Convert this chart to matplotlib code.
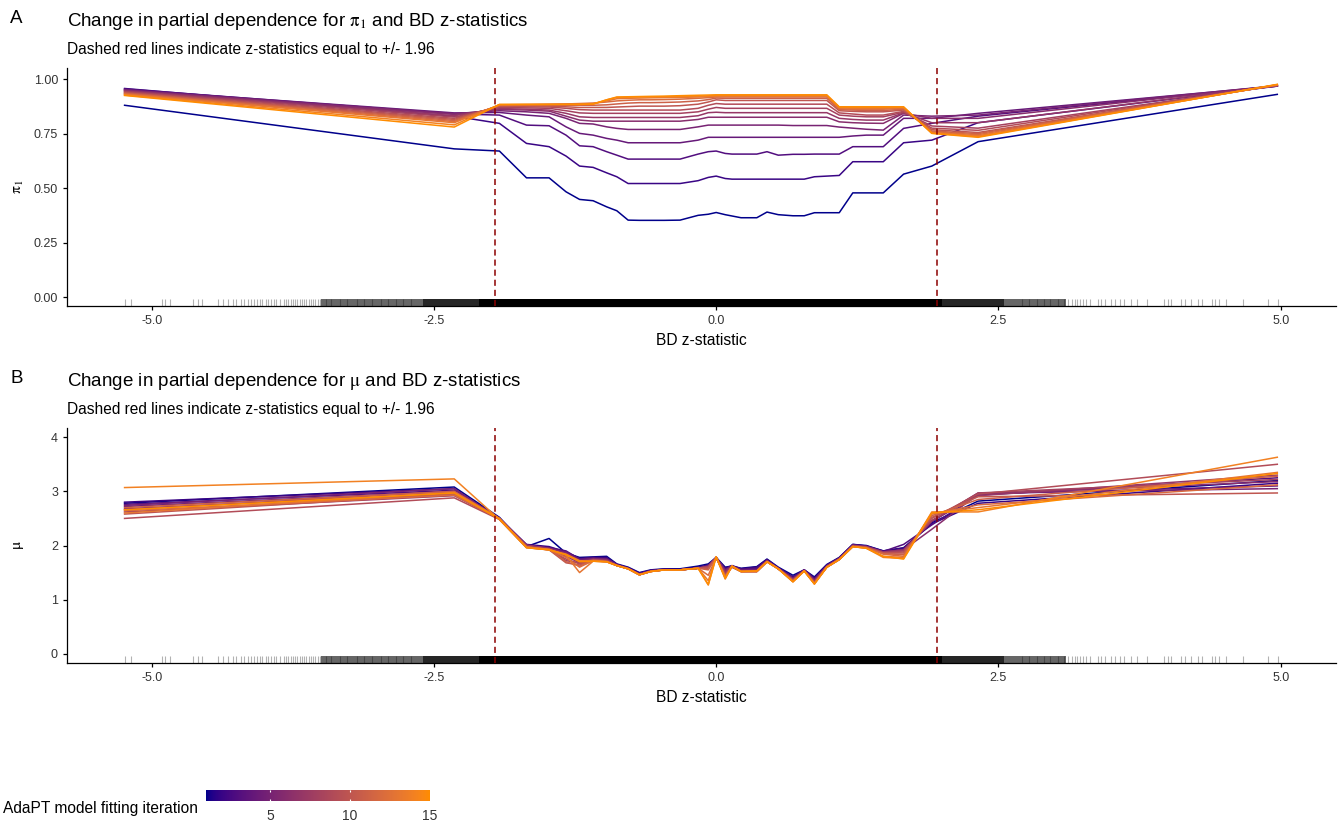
import numpy as np
import matplotlib
matplotlib.use("Agg")
import matplotlib.pyplot as plt

plt.rcParams['font.family'] = ['Liberation Sans', 'DejaVu Sans']
plt.rcParams['mathtext.fontset'] = 'stix'
plt.rcParams['axes.unicode_minus'] = False

# grid of BD z-statistics used for the partial dependence
z_grid = [-5.24, -2.32, -1.92, -1.68, -1.48, -1.33, -1.21, -1.09, -0.97, -0.88,
          -0.78, -0.68, -0.58, -0.46, -0.32, -0.16, -0.07, 0.00, 0.08, 0.14,
          0.22, 0.36, 0.45, 0.55, 0.68, 0.78, 0.87, 0.98, 1.09, 1.21,
          1.33, 1.48, 1.66, 1.91, 2.32, 4.97]

# partial dependence of pi_1, one list per AdaPT iteration
pi1_it01 = [0.880, 0.680, 0.670, 0.547, 0.547, 0.483, 0.448, 0.442, 0.414, 0.396, 0.353, 0.352, 0.352, 0.352, 0.353, 0.375, 0.380, 0.388, 0.378, 0.372, 0.364, 0.364, 0.390, 0.378, 0.373, 0.373, 0.387, 0.387, 0.387, 0.478, 0.478, 0.478, 0.564, 0.601, 0.713, 0.930]
pi1_it02 = [0.957, 0.830, 0.797, 0.705, 0.690, 0.647, 0.601, 0.595, 0.570, 0.552, 0.521, 0.521, 0.521, 0.521, 0.521, 0.534, 0.549, 0.555, 0.544, 0.541, 0.541, 0.541, 0.541, 0.541, 0.541, 0.541, 0.552, 0.555, 0.558, 0.621, 0.621, 0.621, 0.708, 0.720, 0.800, 0.968]
pi1_it03 = [0.955, 0.840, 0.835, 0.789, 0.786, 0.743, 0.694, 0.690, 0.667, 0.651, 0.633, 0.633, 0.633, 0.633, 0.633, 0.656, 0.667, 0.670, 0.659, 0.656, 0.656, 0.656, 0.667, 0.651, 0.655, 0.655, 0.656, 0.656, 0.656, 0.690, 0.690, 0.690, 0.774, 0.797, 0.830, 0.968]
pi1_it04 = [0.952, 0.845, 0.847, 0.835, 0.827, 0.781, 0.751, 0.743, 0.728, 0.720, 0.708, 0.708, 0.708, 0.708, 0.708, 0.720, 0.733, 0.733, 0.733, 0.733, 0.733, 0.733, 0.733, 0.733, 0.733, 0.733, 0.733, 0.733, 0.733, 0.739, 0.743, 0.743, 0.820, 0.820, 0.843, 0.968]
pi1_it05 = [0.950, 0.842, 0.855, 0.850, 0.843, 0.820, 0.797, 0.794, 0.781, 0.774, 0.769, 0.769, 0.769, 0.769, 0.769, 0.781, 0.789, 0.789, 0.789, 0.789, 0.789, 0.789, 0.789, 0.789, 0.787, 0.787, 0.787, 0.787, 0.780, 0.775, 0.770, 0.766, 0.835, 0.830, 0.835, 0.970]
pi1_it06 = [0.948, 0.838, 0.861, 0.858, 0.853, 0.830, 0.812, 0.807, 0.807, 0.807, 0.807, 0.807, 0.807, 0.807, 0.807, 0.815, 0.825, 0.825, 0.825, 0.825, 0.825, 0.825, 0.825, 0.825, 0.825, 0.825, 0.825, 0.825, 0.804, 0.800, 0.798, 0.797, 0.843, 0.820, 0.820, 0.970]
pi1_it07 = [0.945, 0.832, 0.865, 0.862, 0.858, 0.843, 0.827, 0.824, 0.824, 0.824, 0.824, 0.824, 0.824, 0.824, 0.824, 0.832, 0.846, 0.848, 0.846, 0.846, 0.846, 0.846, 0.846, 0.846, 0.846, 0.846, 0.846, 0.846, 0.820, 0.815, 0.812, 0.812, 0.845, 0.800, 0.800, 0.970]
pi1_it08 = [0.943, 0.826, 0.870, 0.868, 0.866, 0.855, 0.845, 0.843, 0.843, 0.843, 0.843, 0.843, 0.843, 0.843, 0.843, 0.850, 0.862, 0.870, 0.866, 0.866, 0.866, 0.866, 0.866, 0.866, 0.866, 0.866, 0.866, 0.866, 0.835, 0.830, 0.827, 0.827, 0.848, 0.785, 0.775, 0.970]
pi1_it09 = [0.940, 0.820, 0.874, 0.873, 0.872, 0.866, 0.860, 0.858, 0.858, 0.858, 0.858, 0.858, 0.858, 0.858, 0.858, 0.866, 0.880, 0.888, 0.885, 0.885, 0.885, 0.885, 0.885, 0.885, 0.885, 0.885, 0.885, 0.885, 0.845, 0.840, 0.835, 0.835, 0.852, 0.775, 0.765, 0.972]
pi1_it10 = [0.937, 0.815, 0.877, 0.877, 0.876, 0.873, 0.870, 0.870, 0.870, 0.872, 0.874, 0.876, 0.876, 0.876, 0.878, 0.885, 0.895, 0.905, 0.902, 0.902, 0.902, 0.902, 0.902, 0.902, 0.902, 0.902, 0.902, 0.902, 0.855, 0.852, 0.850, 0.850, 0.858, 0.768, 0.755, 0.972]
pi1_it11 = [0.935, 0.810, 0.879, 0.880, 0.880, 0.880, 0.880, 0.880, 0.882, 0.886, 0.890, 0.892, 0.892, 0.893, 0.895, 0.900, 0.906, 0.913, 0.912, 0.912, 0.912, 0.912, 0.912, 0.912, 0.912, 0.912, 0.912, 0.912, 0.860, 0.858, 0.856, 0.856, 0.862, 0.762, 0.750, 0.973]
pi1_it12 = [0.932, 0.805, 0.880, 0.882, 0.884, 0.886, 0.888, 0.890, 0.895, 0.900, 0.903, 0.905, 0.905, 0.906, 0.908, 0.912, 0.915, 0.918, 0.918, 0.918, 0.918, 0.918, 0.918, 0.918, 0.918, 0.918, 0.918, 0.918, 0.864, 0.862, 0.862, 0.862, 0.866, 0.758, 0.745, 0.974]
pi1_it13 = [0.930, 0.800, 0.882, 0.883, 0.884, 0.885, 0.886, 0.888, 0.900, 0.910, 0.912, 0.913, 0.914, 0.915, 0.916, 0.918, 0.920, 0.922, 0.922, 0.922, 0.922, 0.922, 0.922, 0.922, 0.922, 0.922, 0.922, 0.922, 0.868, 0.866, 0.866, 0.866, 0.869, 0.755, 0.740, 0.974]
pi1_it14 = [0.927, 0.790, 0.883, 0.884, 0.884, 0.884, 0.884, 0.885, 0.905, 0.916, 0.917, 0.918, 0.918, 0.919, 0.920, 0.921, 0.923, 0.925, 0.925, 0.925, 0.925, 0.925, 0.925, 0.925, 0.925, 0.925, 0.925, 0.925, 0.871, 0.870, 0.870, 0.870, 0.871, 0.752, 0.736, 0.975]
pi1_it15 = [0.925, 0.780, 0.884, 0.884, 0.884, 0.884, 0.884, 0.886, 0.905, 0.918, 0.919, 0.920, 0.921, 0.922, 0.924, 0.926, 0.927, 0.928, 0.928, 0.928, 0.928, 0.928, 0.928, 0.928, 0.928, 0.928, 0.928, 0.928, 0.873, 0.873, 0.873, 0.873, 0.873, 0.751, 0.733, 0.976]

# partial dependence of mu, one list per AdaPT iteration
mu_it01 = [2.78, 3.08, 2.52, 1.98, 2.13, 1.86, 1.78, 1.79, 1.80, 1.66, 1.60, 1.50, 1.55, 1.57, 1.57, 1.62, 1.66, 1.78, 1.60, 1.62, 1.58, 1.61, 1.75, 1.60, 1.45, 1.55, 1.42, 1.65, 1.78, 2.02, 2.00, 1.90, 1.95, 2.42, 2.82, 3.20]
mu_it02 = [2.80, 3.05, 2.50, 2.02, 1.98, 1.88, 1.76, 1.78, 1.78, 1.65, 1.59, 1.49, 1.54, 1.56, 1.56, 1.60, 1.64, 1.77, 1.58, 1.63, 1.57, 1.60, 1.74, 1.59, 1.42, 1.55, 1.40, 1.64, 1.77, 2.02, 1.99, 1.90, 1.96, 2.40, 2.78, 3.15]
mu_it03 = [2.76, 3.02, 2.51, 2.01, 1.96, 1.90, 1.75, 1.77, 1.76, 1.65, 1.58, 1.48, 1.54, 1.56, 1.55, 1.59, 1.63, 1.77, 1.56, 1.62, 1.56, 1.58, 1.73, 1.58, 1.40, 1.55, 1.38, 1.63, 1.77, 2.01, 1.99, 1.89, 2.02, 2.38, 2.93, 3.25]
mu_it04 = [2.72, 3.00, 2.50, 2.00, 1.95, 1.88, 1.74, 1.76, 1.75, 1.64, 1.58, 1.47, 1.53, 1.55, 1.55, 1.58, 1.62, 1.78, 1.55, 1.62, 1.55, 1.56, 1.72, 1.58, 1.40, 1.54, 1.37, 1.62, 1.76, 2.01, 1.98, 1.88, 1.93, 2.44, 2.95, 3.10]
mu_it05 = [2.74, 3.05, 2.49, 1.99, 1.94, 1.87, 1.72, 1.76, 1.74, 1.64, 1.58, 1.47, 1.53, 1.55, 1.55, 1.58, 1.62, 1.78, 1.54, 1.62, 1.54, 1.55, 1.72, 1.57, 1.39, 1.54, 1.36, 1.62, 1.76, 2.00, 1.98, 1.88, 1.92, 2.45, 2.97, 3.05]
mu_it06 = [2.68, 2.95, 2.50, 2.00, 1.95, 1.85, 1.70, 1.75, 1.74, 1.64, 1.58, 1.47, 1.53, 1.55, 1.55, 1.58, 1.62, 1.78, 1.52, 1.62, 1.53, 1.53, 1.72, 1.57, 1.38, 1.54, 1.35, 1.62, 1.76, 2.00, 1.98, 1.88, 1.92, 2.30, 2.95, 3.18]
mu_it07 = [2.62, 2.92, 2.49, 2.01, 1.94, 1.80, 1.68, 1.74, 1.72, 1.63, 1.57, 1.46, 1.53, 1.55, 1.55, 1.58, 1.61, 1.78, 1.50, 1.61, 1.53, 1.53, 1.71, 1.57, 1.37, 1.54, 1.34, 1.61, 1.75, 2.00, 1.97, 1.88, 1.91, 2.46, 2.92, 3.30]
mu_it08 = [2.66, 3.00, 2.50, 1.98, 1.93, 1.72, 1.68, 1.74, 1.72, 1.63, 1.57, 1.46, 1.52, 1.55, 1.55, 1.58, 1.61, 1.77, 1.48, 1.61, 1.52, 1.52, 1.71, 1.57, 1.37, 1.53, 1.33, 1.61, 1.75, 1.99, 1.97, 1.87, 1.90, 2.46, 2.97, 3.22]
mu_it09 = [2.50, 2.88, 2.48, 1.96, 1.92, 1.75, 1.66, 1.73, 1.71, 1.63, 1.57, 1.46, 1.52, 1.55, 1.55, 1.58, 1.60, 1.77, 1.46, 1.60, 1.52, 1.52, 1.70, 1.57, 1.36, 1.53, 1.32, 1.60, 1.75, 1.99, 1.97, 1.86, 1.88, 2.50, 2.95, 3.50]
mu_it10 = [2.58, 2.95, 2.49, 1.97, 1.92, 1.68, 1.64, 1.73, 1.71, 1.63, 1.57, 1.46, 1.52, 1.55, 1.55, 1.58, 1.58, 1.77, 1.44, 1.60, 1.52, 1.52, 1.70, 1.57, 1.35, 1.53, 1.31, 1.60, 1.74, 1.99, 1.96, 1.86, 1.86, 2.52, 2.90, 2.97]
mu_it11 = [2.70, 3.00, 2.50, 1.97, 1.93, 1.70, 1.62, 1.72, 1.70, 1.63, 1.57, 1.46, 1.52, 1.55, 1.55, 1.58, 1.55, 1.78, 1.44, 1.61, 1.52, 1.52, 1.70, 1.57, 1.35, 1.53, 1.31, 1.60, 1.74, 1.98, 1.96, 1.85, 1.83, 2.55, 2.85, 3.28]
mu_it12 = [2.64, 2.93, 2.49, 1.98, 1.92, 1.78, 1.60, 1.72, 1.70, 1.63, 1.57, 1.46, 1.52, 1.55, 1.55, 1.58, 1.45, 1.78, 1.42, 1.61, 1.52, 1.52, 1.70, 1.57, 1.34, 1.53, 1.30, 1.60, 1.74, 1.98, 1.96, 1.84, 1.80, 2.58, 2.75, 3.12]
mu_it13 = [2.60, 2.98, 2.50, 1.97, 1.93, 1.82, 1.50, 1.71, 1.70, 1.63, 1.57, 1.46, 1.52, 1.55, 1.55, 1.58, 1.35, 1.79, 1.40, 1.62, 1.52, 1.52, 1.70, 1.57, 1.33, 1.53, 1.29, 1.60, 1.74, 1.98, 1.95, 1.80, 1.78, 2.60, 2.70, 3.35]
mu_it14 = [3.07, 3.23, 2.48, 1.96, 1.92, 1.84, 1.72, 1.71, 1.70, 1.63, 1.57, 1.46, 1.52, 1.55, 1.55, 1.58, 1.27, 1.79, 1.38, 1.62, 1.52, 1.53, 1.70, 1.57, 1.33, 1.53, 1.29, 1.60, 1.74, 1.98, 1.95, 1.78, 1.76, 2.62, 2.62, 3.63]
mu_it15 = [2.66, 2.97, 2.49, 1.96, 1.92, 1.83, 1.70, 1.71, 1.70, 1.63, 1.57, 1.46, 1.52, 1.55, 1.55, 1.58, 1.28, 1.79, 1.40, 1.62, 1.52, 1.53, 1.70, 1.57, 1.33, 1.53, 1.29, 1.60, 1.74, 1.98, 1.95, 1.80, 1.75, 2.60, 2.66, 3.33]

iterations = list(range(1, 16))
z_cut = [-1.96, 1.96]

# observed BD z-statistics (rug): sparse tails, denser shoulders, solid core
rug_left = [-5.24, -5.18, -4.91, -4.88, -4.84, -4.63, -4.59, -4.55, -4.41, -4.37,
            -4.32, -4.28, -4.25, -4.21, -4.18, -4.15, -4.12, -4.09, -4.07, -4.04,
            -4.02, -3.99, -3.97, -3.94, -3.92, -3.90, -3.86, -3.83, -3.81, -3.79,
            -3.77, -3.75, -3.73, -3.71, -3.69, -3.67, -3.65, -3.63, -3.61, -3.59,
            -3.57, -3.55, -3.53, -3.51, -3.46, -3.41, -3.33, -3.27, -3.18, -3.12,
            -3.05, -2.97, -2.91, -2.84, -2.77, -2.70]
rug_right = [2.71, 2.77, 2.84, 2.90, 2.96, 3.03, 3.08, 3.12, 3.15, 3.18, 3.20,
             3.22, 3.25, 3.28, 3.31, 3.38, 3.41, 3.44,
             3.50, 3.53, 3.58, 3.61, 3.67, 3.73, 3.82, 3.97, 4.00, 4.03, 4.12,
             4.15, 4.21, 4.27, 4.30, 4.39, 4.42, 4.45, 4.52, 4.67, 4.89, 4.98]
rug_outer = [(-3.5, -2.6), (2.55, 3.1)]
rug_inner = [(-2.6, -2.1), (2.0, 2.55)]
rug_core = (-2.1, 2.0)

pi1_curves = [pi1_it01, pi1_it02, pi1_it03, pi1_it04, pi1_it05, pi1_it06, pi1_it07, pi1_it08,
              pi1_it09, pi1_it10, pi1_it11, pi1_it12, pi1_it13, pi1_it14, pi1_it15]
mu_curves = [mu_it01, mu_it02, mu_it03, mu_it04, mu_it05, mu_it06, mu_it07, mu_it08,
             mu_it09, mu_it10, mu_it11, mu_it12, mu_it13, mu_it14, mu_it15]

# colour gradient darkblue -> darkorange interpolated in Lab space (like ggplot)
M = np.array([[0.4124564, 0.3575761, 0.1804375],
              [0.2126729, 0.7151522, 0.0721750],
              [0.0193339, 0.1191920, 0.9503041]])
WHITE = np.array([0.95047, 1.0, 1.08883])


def hex_to_lab(h):
    rgb = np.array([int(h[i:i + 2], 16) for i in (1, 3, 5)]) / 255.0
    lin = np.where(rgb <= 0.04045, rgb / 12.92, ((rgb + 0.055) / 1.055) ** 2.4)
    t = M @ lin / WHITE
    f = np.where(t > 216 / 24389, np.cbrt(t), (24389 / 27 * t + 16) / 116)
    return np.array([116 * f[1] - 16, 500 * (f[0] - f[1]), 200 * (f[1] - f[2])])


def lab_to_rgb(lab):
    fy = (lab[0] + 16) / 116
    f = np.array([fy + lab[1] / 500, fy, fy - lab[2] / 200])
    xyz = np.where(f ** 3 > 216 / 24389, f ** 3, (116 * f - 16) / (24389 / 27)) * WHITE
    lin = np.clip(np.linalg.solve(M, xyz), 0, 1)
    rgb = np.where(lin <= 0.0031308, 12.92 * lin, 1.055 * lin ** (1 / 2.4) - 0.055)
    return np.clip(rgb, 0, 1)


LAB_LO = hex_to_lab('#00008B')
LAB_HI = hex_to_lab('#FF8C00')


def grad(t):
    return lab_to_rgb(LAB_LO + (LAB_HI - LAB_LO) * t)


W, H = 1342, 826
fig = plt.figure(figsize=(W / 100, H / 100), dpi=100)


def fx(px):
    return px / W


def fy(py):
    return 1 - py / H


TXT = '#333333'


def draw_panel(ax, curves, ylim, yticks, yticklabels):
    for it, vals in zip(iterations, curves):
        ax.plot(z_grid, vals, color=grad((it - 1) / 14), lw=1.1, zorder=2,
                solid_joinstyle='round')
    trans = ax.get_xaxis_transform()
    ax.vlines(rug_left + rug_right, 0, 0.03, transform=trans, color='black',
              alpha=0.3, lw=0.8, zorder=1)
    for lo, hi in rug_outer:
        ax.axvspan(lo, hi, ymin=0, ymax=0.03, color='black', alpha=0.6, lw=0, zorder=1)
    for lo, hi in rug_inner:
        ax.axvspan(lo, hi, ymin=0, ymax=0.03, color='black', alpha=0.85, lw=0, zorder=1)
    ax.axvspan(rug_core[0], rug_core[1], ymin=0, ymax=0.03, color='black', lw=0, zorder=1)
    for zc in z_cut:
        ax.axvline(zc, color='#8B0000', lw=1.1, dashes=(4, 2.6), zorder=3)
    ax.set_xlim(-5.75, 5.49)
    ax.set_ylim(*ylim)
    ax.set_xticks([-5, -2.5, 0, 2.5, 5])
    ax.set_xticklabels(['-5.0', '-2.5', '0.0', '2.5', '5.0'])
    ax.set_yticks(yticks)
    ax.set_yticklabels(yticklabels)
    for s in ('top', 'right'):
        ax.spines[s].set_visible(False)
    for s in ('left', 'bottom'):
        ax.spines[s].set_linewidth(0.9)
    ax.tick_params(direction='out', length=3, width=0.9, pad=3.5,
                   labelsize=9, labelcolor=TXT)
    ax.set_xlabel('BD z-statistic', fontsize=11.2, labelpad=4)


axA = fig.add_axes([fx(67), fy(306), fx(1336) - fx(67), (306 - 68) / H])
draw_panel(axA, pi1_curves, (-0.041, 1.051), [0, 0.25, 0.5, 0.75, 1.0],
           ['0.00', '0.25', '0.50', '0.75', '1.00'])
axB = fig.add_axes([fx(67), fy(663), fx(1336) - fx(67), (663 - 428) / H])
draw_panel(axB, mu_curves, (-0.17, 4.17), [0, 1, 2, 3, 4],
           ['0', '1', '2', '3', '4'])

PI1 = r'$\mathrm{\pi}_1$'
MU = r'$\mathrm{\mu}$'

# y axis labels
fig.text(fx(18), fy(187), PI1, rotation=90, ha='center', va='center', fontsize=11.2)
fig.text(fx(18), fy(545), MU, rotation=90, ha='center', va='center', fontsize=11.2)

# tags, titles and subtitles
for off, tag, sym in [(0, 'A', PI1), (360, 'B', MU)]:
    fig.text(fx(10), fy(23 + off), tag, fontsize=13.5, va='baseline')
    fig.text(fx(67), fy(26 + off), 'Change in partial dependence for ' + sym + ' and BD z-statistics',
             fontsize=13.5, va='baseline')
    fig.text(fx(67), fy(54 + off), 'Dashed red lines indicate z-statistics equal to +/- 1.96',
             fontsize=11.2, va='baseline')

# colour bar legend
fig.text(fx(3), fy(813), 'AdaPT model fitting iteration', fontsize=11.2, va='baseline')
cax = fig.add_axes([fx(206), fy(801), fx(430) - fx(206), 11 / H])
ramp = np.linspace(0, 1, 256)
cax.imshow(np.array([[grad(t) for t in ramp]]), extent=[1, 15, 0, 1], aspect='auto')
cax.vlines([5, 10], 0, 0.2, color='white', lw=0.8)
cax.vlines([5, 10], 0.8, 1, color='white', lw=0.8)
cax.set_xlim(1, 15)
cax.set_ylim(0, 1)
cax.set_yticks([])
cax.set_xticks([5, 10, 15])
cax.tick_params(length=0, pad=6, labelsize=10, labelcolor=TXT)
for s in cax.spines.values():
    s.set_visible(False)

fig.savefig('out.png', dpi=100)
